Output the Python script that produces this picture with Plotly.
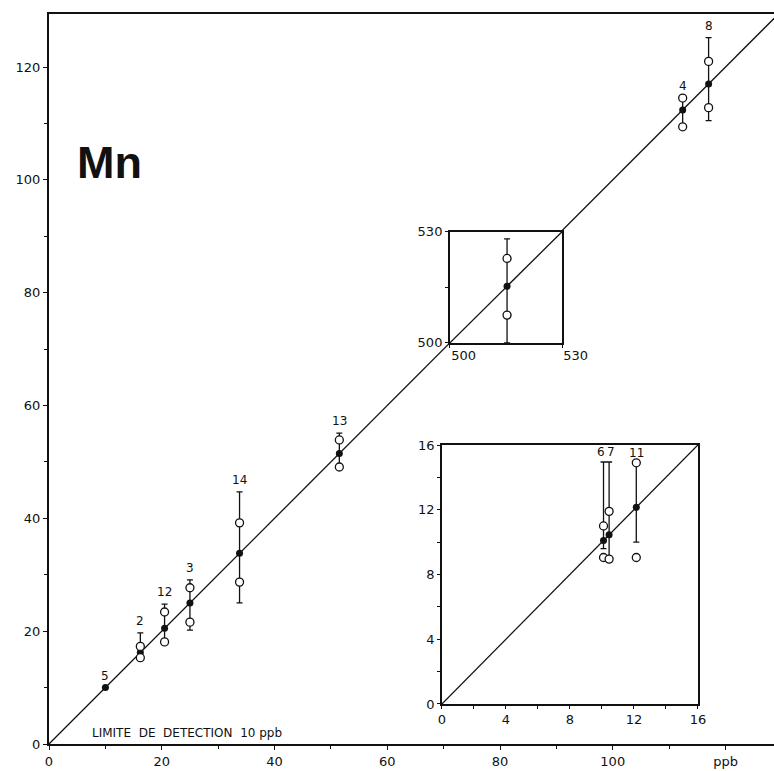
import plotly.graph_objects as go

# ---- data (ppb) ----
# main panel: reference value (on the 1:1 line), individual results, bar extents
main_labels = ["5", "2", "12", "3", "14", "13", "4", "8"]
main_ref = [10.0, 16.2, 20.5, 25.0, 33.8, 51.5, 112.4, 117.0]
main_res_high = [None, 17.3, 23.4, 27.7, 39.2, 53.9, 114.5, 121.0]
main_res_low = [None, 15.3, 18.1, 21.6, 28.7, 49.1, 109.4, 112.8]
main_bar_low = [10.0, 15.3, 18.1, 20.2, 25.0, 49.1, 109.4, 110.5]
main_bar_high = [10.0, 19.7, 24.8, 29.1, 44.7, 55.1, 114.5, 125.2]

# high-range inset (500-530 ppb)
hi_ref = [515.3]
hi_res_high = [522.8]
hi_res_low = [507.5]
hi_bar_low = [500.0]
hi_bar_high = [528.1]

# low-range inset (0-16 ppb)
lo_labels = ["6", "7", "11"]
lo_ref = [10.1, 10.45, 12.15]
lo_res_high = [11.0, 11.9, 14.9]
lo_res_low = [9.05, 8.95, 9.05]
lo_bar_low = [9.6, 8.95, 10.0]
lo_bar_high = [14.95, 14.95, 14.9]

main_ticks = [0, 20, 40, 60, 80, 100, 120]
main_ticktext = ["0", "20", "40", "60", "80", "100", "ppb"]
hi_ticks = [500, 530]
lo_ticks = [0, 4, 8, 12, 16]

# ---- layout constants ----
XMAX, YMAX = 128.6, 129.4
FONT = "DejaVu Sans"
BLACK = "#111111"

fig = go.Figure()


def add_panel(xa, ya, ref, bar_lo, bar_hi, res_hi, res_lo, diag):
    # 1:1 line
    fig.add_trace(go.Scatter(x=list(diag), y=list(diag), mode="lines",
                             line=dict(color=BLACK, width=1.3),
                             xaxis=xa, yaxis=ya, hoverinfo="skip",
                             showlegend=False))
    # bars + reference points (filled)
    fig.add_trace(go.Scatter(
        x=ref, y=ref, mode="markers",
        marker=dict(symbol="circle", size=7, color=BLACK),
        error_y=dict(type="data", symmetric=False,
                     array=[h - r for h, r in zip(bar_hi, ref)],
                     arrayminus=[r - l for r, l in zip(ref, bar_lo)],
                     color=BLACK, thickness=1.3, width=3),
        xaxis=xa, yaxis=ya, showlegend=False, cliponaxis=False))
    # individual results (open circles)
    xs, ys = [], []
    for r, h, l in zip(ref, res_hi, res_lo):
        for v in (h, l):
            if v is not None:
                xs.append(r)
                ys.append(v)
    fig.add_trace(go.Scatter(
        x=xs, y=ys, mode="markers",
        marker=dict(symbol="circle", size=8, color="white",
                    line=dict(color=BLACK, width=1.3)),
        xaxis=xa, yaxis=ya, showlegend=False, cliponaxis=False))


add_panel("x", "y", main_ref, main_bar_low, main_bar_high,
          main_res_high, main_res_low, (0, 140))
add_panel("x2", "y2", hi_ref, hi_bar_low, hi_bar_high,
          hi_res_high, hi_res_low, (500, 530))
add_panel("x3", "y3", lo_ref, lo_bar_low, lo_bar_high,
          lo_res_high, lo_res_low, (0, 16))

annotations = []
for lab, r, h in zip(main_labels, main_ref, main_bar_high):
    annotations.append(dict(x=r, y=h, xref="x", yref="y", text=lab,
                            showarrow=False, yanchor="bottom", yshift=3,
                            font=dict(family=FONT, size=12, color=BLACK)))
for lab, r, h in zip(lo_labels, lo_ref, lo_bar_high):
    annotations.append(dict(x=r, y=h, xref="x3", yref="y3", text=lab,
                            showarrow=False, yanchor="bottom", yshift=1,
                            xshift=-3 if lab == "6" else (2 if lab == "7" else 0),
                            font=dict(family=FONT, size=12, color=BLACK)))

annotations.append(dict(x=10.8, y=103.0, xref="x", yref="y", text="<b>Mn</b>",
                        showarrow=False,
                        font=dict(family="Liberation Sans Narrow, Liberation Sans",
                                  size=45, color=BLACK)))
annotations.append(dict(x=7.3, y=2.0, xref="x", yref="y",
                        text="LIMITE  DE  DETECTION  10 ppb",
                        showarrow=False, xanchor="left", yanchor="middle",
                        font=dict(family=FONT, size=12, color=BLACK)))

tickfont = dict(family=FONT, size=13, color=BLACK)
axis_common = dict(showgrid=False, zeroline=False, showline=True,
                   linecolor=BLACK, ticks="outside", tickcolor=BLACK,
                   tickfont=tickfont, automargin=False)

fig.update_layout(
    width=774, height=771,
    margin=dict(l=49, r=0, t=14, b=27, autoexpand=False),
    paper_bgcolor="white", plot_bgcolor="white",
    showlegend=False,
    annotations=annotations,
    xaxis=dict(**axis_common, domain=[0, 1], range=[0, XMAX],
               tickvals=main_ticks, ticktext=main_ticktext, ticklen=4,
               linewidth=2, mirror=True,
               minor=dict(dtick=10, tick0=0, ticks="outside", ticklen=3,
                          tickcolor=BLACK)),
    yaxis=dict(**axis_common, domain=[0, 1], range=[0, YMAX],
               tickvals=main_ticks, ticklen=4, linewidth=2,
               minor=dict(dtick=10, tick0=0, ticks="outside", ticklen=3,
                          tickcolor=BLACK)),
    xaxis2=dict(**axis_common, anchor="y2",
                domain=[71.1 / XMAX, 91.0 / XMAX], range=[500, 530],
                tickvals=hi_ticks, ticklen=3, linewidth=1.6, mirror=True,
                ticklabelposition="outside right"),
    yaxis2=dict(**axis_common, anchor="x2",
                domain=[71.1 / YMAX, 90.8 / YMAX], range=[500, 530],
                tickvals=hi_ticks, ticklen=3, linewidth=1.6, mirror=True,
                minor=dict(dtick=15, tick0=500, ticks="outside", ticklen=3,
                           tickcolor=BLACK)),
    xaxis3=dict(**axis_common, anchor="y3",
                domain=[69.7 / XMAX, 115.1 / XMAX], range=[0, 16],
                tickvals=lo_ticks, ticklen=3, linewidth=1.6, mirror=True,
                minor=dict(dtick=2, tick0=0, ticks="outside", ticklen=3,
                           tickcolor=BLACK)),
    yaxis3=dict(**axis_common, anchor="x3",
                domain=[7.1 / YMAX, 53.0 / YMAX], range=[0, 16],
                tickvals=lo_ticks, ticklen=3, linewidth=1.6, mirror=True,
                minor=dict(dtick=2, tick0=0, ticks="outside", ticklen=3,
                           tickcolor=BLACK)),
)

fig.write_html("out.html")
